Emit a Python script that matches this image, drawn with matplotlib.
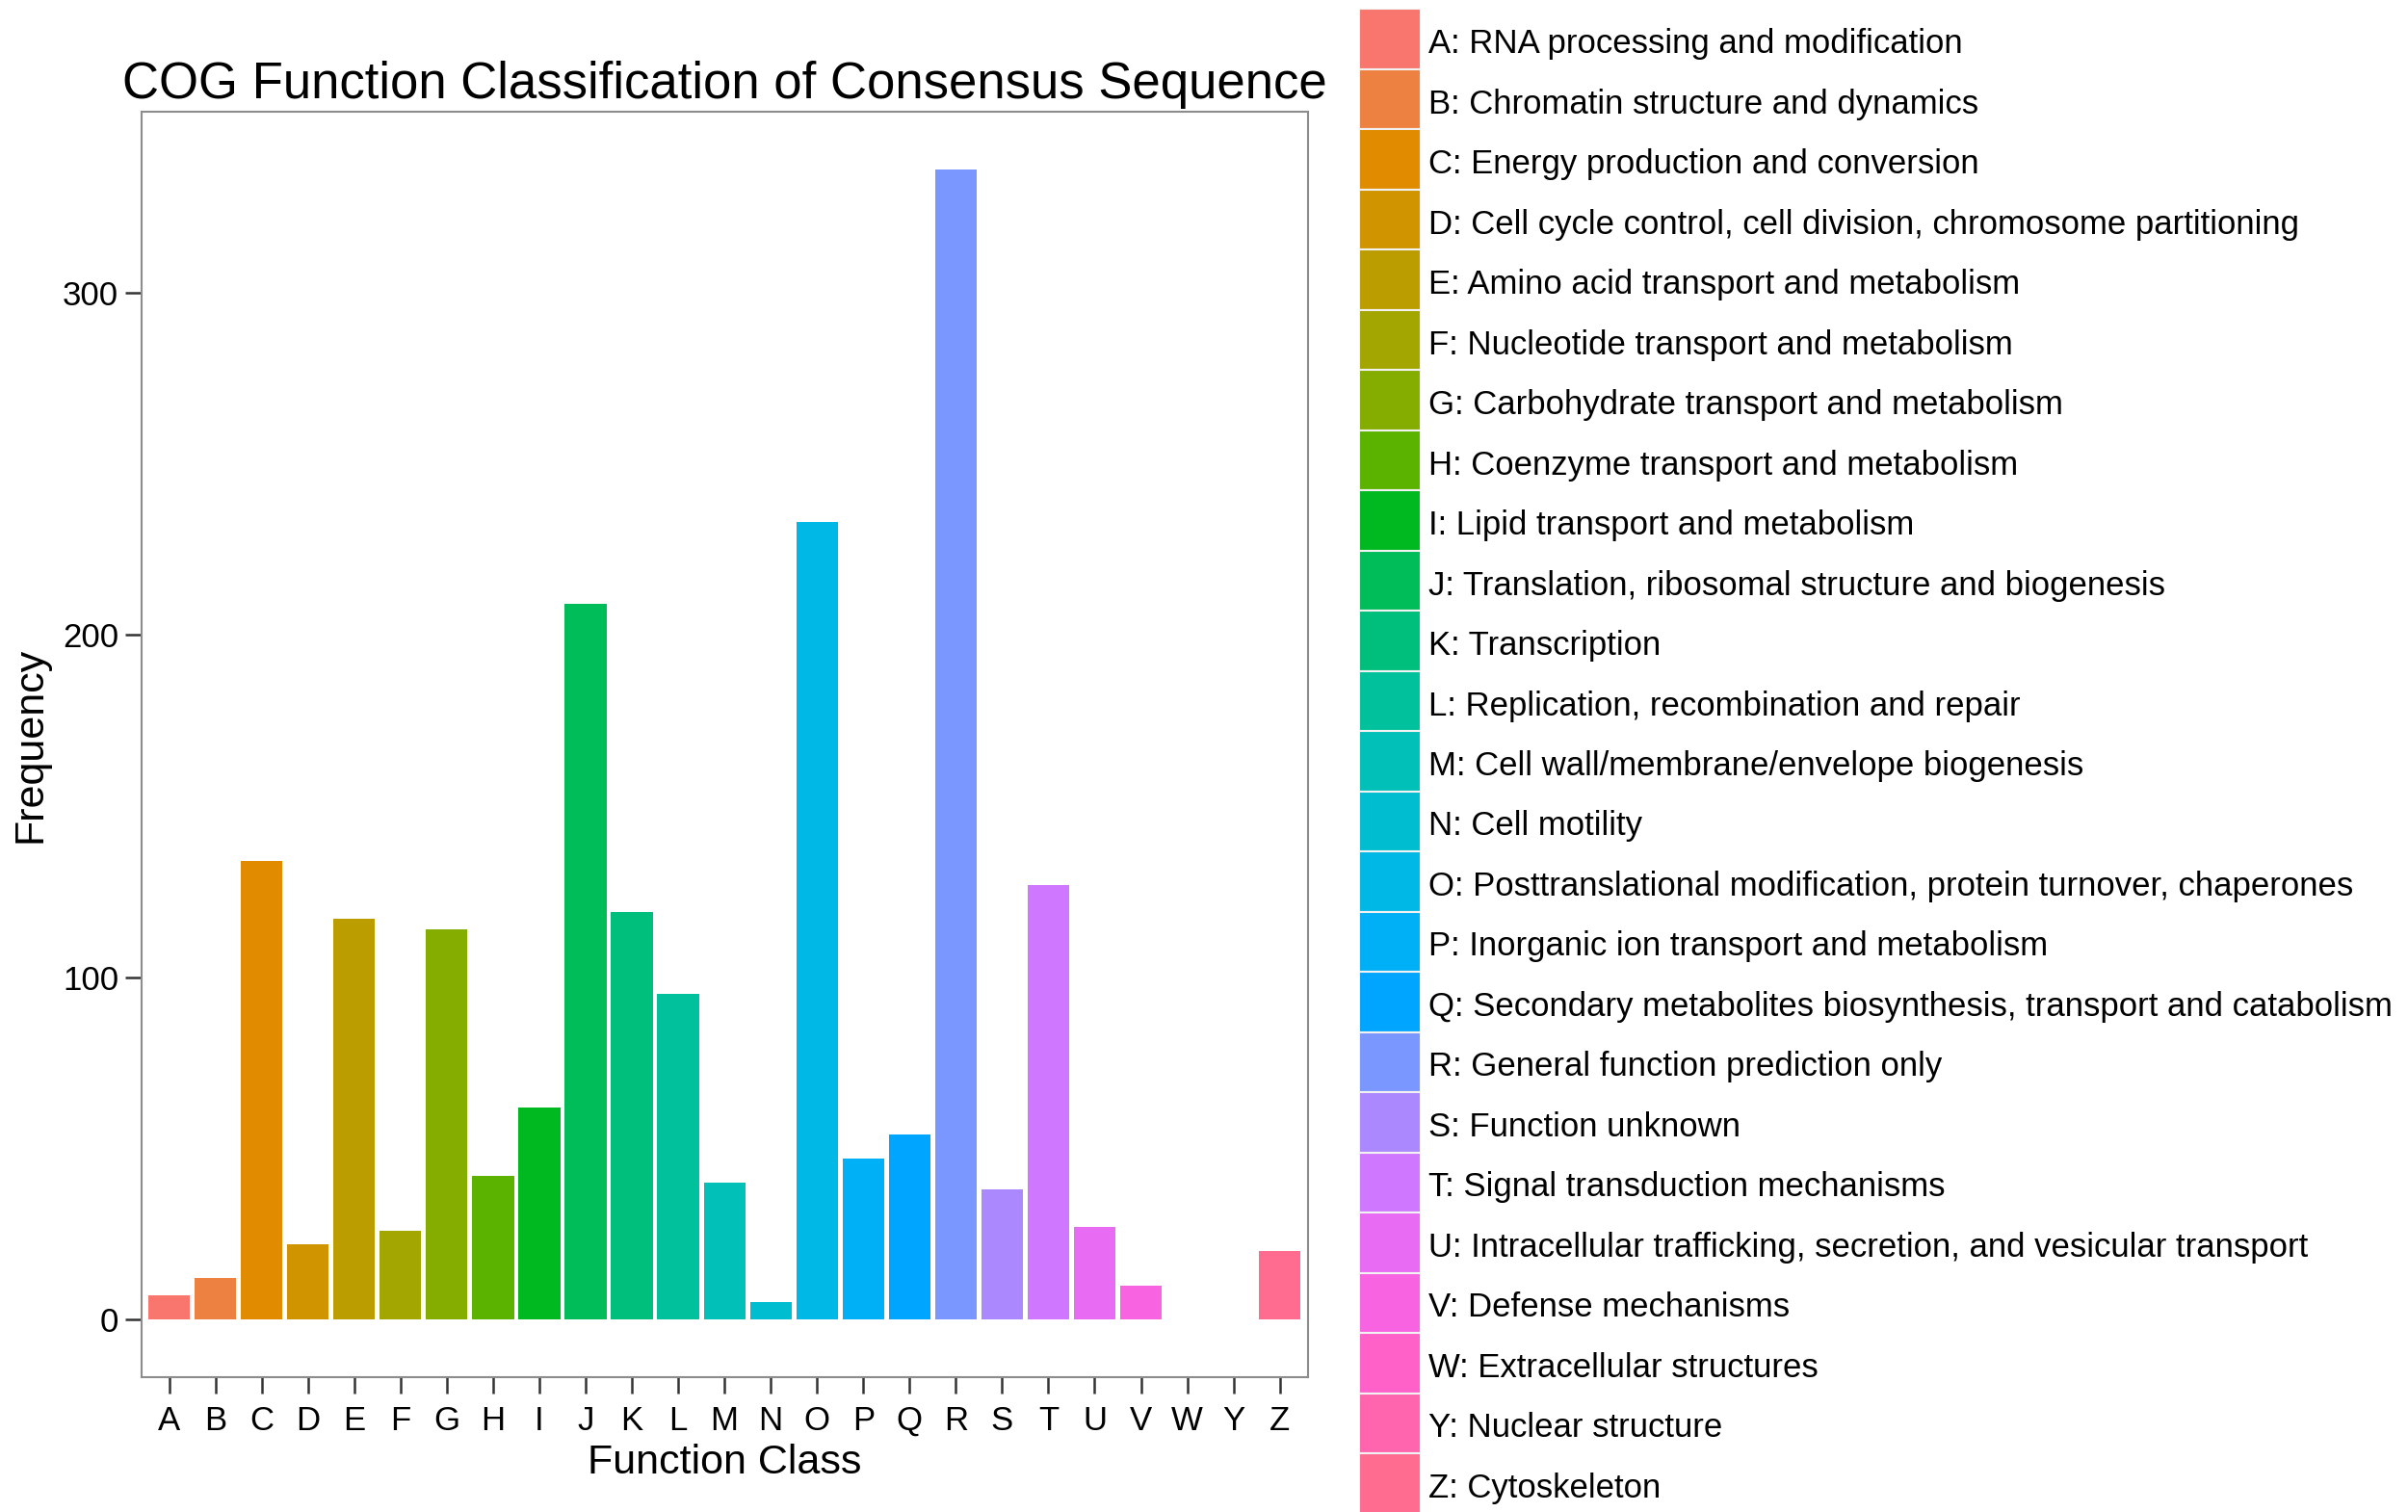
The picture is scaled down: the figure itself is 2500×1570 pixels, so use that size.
import numpy as np
from matplotlib import pyplot as plt

plt.rcParams['font.family'] = ['Liberation Sans', 'DejaVu Sans']

classes = ['A', 'B', 'C', 'D', 'E', 'F', 'G', 'H', 'I', 'J', 'K', 'L', 'M',
           'N', 'O', 'P', 'Q', 'R', 'S', 'T', 'U', 'V', 'W', 'Y', 'Z']
freq = [7, 12, 134, 22, 117, 26, 114, 42, 62, 209, 119, 95, 40,
        5, 233, 47, 54, 336, 38, 127, 27, 10, 0, 0, 20]
descriptions = [
    'RNA processing and modification',
    'Chromatin structure and dynamics',
    'Energy production and conversion',
    'Cell cycle control, cell division, chromosome partitioning',
    'Amino acid transport and metabolism',
    'Nucleotide transport and metabolism',
    'Carbohydrate transport and metabolism',
    'Coenzyme transport and metabolism',
    'Lipid transport and metabolism',
    'Translation, ribosomal structure and biogenesis',
    'Transcription',
    'Replication, recombination and repair',
    'Cell wall/membrane/envelope biogenesis',
    'Cell motility',
    'Posttranslational modification, protein turnover, chaperones',
    'Inorganic ion transport and metabolism',
    'Secondary metabolites biosynthesis, transport and catabolism',
    'General function prediction only',
    'Function unknown',
    'Signal transduction mechanisms',
    'Intracellular trafficking, secretion, and vesicular transport',
    'Defense mechanisms',
    'Extracellular structures',
    'Nuclear structure',
    'Cytoskeleton',
]
y_ticks = [0, 100, 200, 300]


def hcl_hex(h, c=100, l=65):
    # polar Luv -> sRGB, same as R's hcl()
    xn, yn, zn = 95.047, 100.0, 108.883
    un = 4 * xn / (xn + 15 * yn + 3 * zn)
    vn = 9 * yn / (xn + 15 * yn + 3 * zn)
    u = c * np.cos(np.radians(h))
    v = c * np.sin(np.radians(h))
    Y = yn * ((l + 16) / 116) ** 3
    up = u / (13 * l) + un
    vp = v / (13 * l) + vn
    X = 9 * Y * up / (4 * vp)
    Z = -X / 3 - 5 * Y + 3 * Y / vp
    xyz = np.array([X, Y, Z]) / 100
    m = np.array([[3.240479, -1.537150, -0.498535],
                  [-0.969256, 1.875992, 0.041556],
                  [0.055648, -0.204043, 1.057311]])
    rgb = m @ xyz
    rgb = np.where(rgb <= 0.0031308, 12.92 * rgb, 1.055 * np.abs(rgb) ** (1 / 2.4) - 0.055)
    return tuple(np.clip(rgb, 0, 1))


n = len(classes)
hues = np.linspace(15, 375, n + 1)[:n]
colors = [hcl_hex(h) for h in hues]

fig = plt.figure(figsize=(25, 15.7), dpi=100)
ax = fig.add_axes([0.0587, 0.0893, 0.4843, 0.8367])
x = np.arange(n)
ax.bar(x, freq, width=0.9, color=colors, edgecolor='none')
ax.set_xlim(-0.6, n - 0.4)
top = max(freq)
ax.set_ylim(-0.05 * top, top * 1.05)
ax.set_xticks(x)
ax.set_xticklabels(classes, fontsize=25)
ax.set_yticks(y_ticks)
ax.set_yticklabels([str(t) for t in y_ticks], fontsize=25)
ax.tick_params(length=12, width=1.8, color='#333333', pad=5)
ax.tick_params(axis='x', pad=9)
for s in ax.spines.values():
    s.set_color('#8c8c8c')
    s.set_linewidth(1.5)
ax.set_xlabel('Function Class', fontsize=31, labelpad=5)
ax.set_ylabel('Frequency', fontsize=31, labelpad=10)
ax.set_title('COG Function Classification of Consensus Sequence', fontsize=38, pad=10)

# legend: stacked colour keys with labels
lax = fig.add_axes([0.5645, -0.001, 0.0255, 0.995])
lax.barh(x, [1] * n, height=1, left=0, color=colors, edgecolor='#f2f2f2', linewidth=1.5)
lax.set_xlim(0, 1)
lax.set_ylim(n - 0.5, -0.5)
lax.axis('off')
for i in range(n):
    lax.text(1.12, i + 0.08, classes[i] + ': ' + descriptions[i], fontsize=25,
             va='center', ha='left', clip_on=False)

plt.savefig('out.png', dpi=100)
